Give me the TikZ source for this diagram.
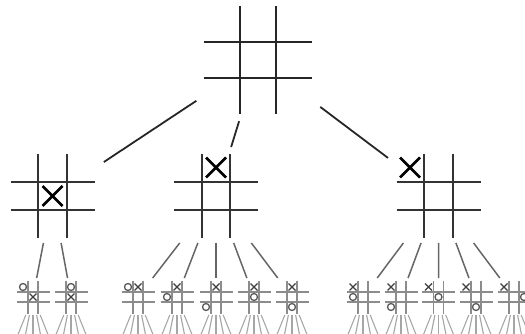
\documentclass[tikz,border=0pt]{standalone}
\usetikzlibrary{calc}

\tikzset{
  pics/board/.style 2 args={code={
    \draw (-#1/2,-#2) -- (-#1/2,#2) (#1/2,-#2) -- (#1/2,#2)
          (-#2,-#1/2) -- (#2,-#1/2) (-#2,#1/2) -- (#2,#1/2);}},
  pics/xmark/.style={code={\draw (-#1,-#1) -- (#1,#1) (-#1,#1) -- (#1,-#1);}},
  pics/omark/.style={code={\draw (0,0) circle[radius=#1 pt];}},
  big/.style={line width=2pt, black!85},
  mid/.style={line width=2pt, black!80},
  small/.style={line width=1.4pt, black!45},
  smallmark/.style={line width=1.3pt, black!75},
  link/.style={line width=1.8pt, black!85},
  sublink/.style={line width=1.5pt, black!60},
  fan/.style={line width=1.1pt, black!35},
}

\begin{document}
\begin{tikzpicture}[x=1pt,y=-1pt]
\useasboundingbox (0,0) rectangle (525,334);
\clip (0,0) rectangle (525,334);

% root
\coordinate (top) at (258,60);
\pic[big] at (top) {board={36}{54}};

% first move
\coordinate (l) at (52.5,196);
\coordinate (m) at (216,196);
\coordinate (r) at (438.5,196);
\foreach \b in {l,m,r}
  \pic[mid] at (\b) {board={28.5}{42}};
\pic[line width=2.5pt, black] at ($(l)+(0,0)$) {xmark=10};
\pic[line width=2.5pt, black] at ($(m)+(0,-28.5)$) {xmark=10};
\pic[line width=2.5pt, black] at ($(r)+(-28.5,-28.5)$) {xmark=10};

\draw[link] ($(top)!0.30!(l)$) -- ($(top)!0.75!(l)$);
\draw[link] ($(top)!0.45!(m)$) -- ($(top)!0.64!(m)$);
\draw[link] ($(top)!0.345!(r)$) -- ($(top)!0.72!(r)$);

% second move
\coordinate (l1) at (33,297);
\coordinate (l2) at (71,297);
\coordinate (m1) at (138,297);
\coordinate (m2) at (177,297);
\coordinate (m3) at (216,297);
\coordinate (m4) at (254,297);
\coordinate (m5) at (292,297);
\coordinate (r1) at (363,297);
\coordinate (r2) at (401,297);
\coordinate (r3) at (438.5,297);
\coordinate (r4) at (476,297);
\coordinate (r5) at (514,297);

\foreach \p/\c in {l/l1,l/l2,m/m1,m/m2,m/m3,m/m4,m/m5,r/r1,r/r2,r/r3,r/r4,r/r5}{
  \draw[sublink] ($(\p)!0.465!(\c)$) -- ($(\p)!0.812!(\c)$);
  \pic[small] at (\c) {board={10}{16.5}};
  \foreach \d in {-24,-12,0,12,24}
    \draw[fan] ($(\c)+(0.3*\d,18)$) -- ($(\c)+(0.7*\d,42)$);
}

\foreach \c/\xx/\xy/\ox/\oy in {l1/0/0/-10/-10, l2/0/0/0/-10,
    m1/0/-10/-10/-10, m2/0/-10/-10/0, m3/0/-10/-10/10, m4/0/-10/0/0, m5/0/-10/0/10,
    r1/-10/-10/-10/0, r2/-10/-10/-10/10, r3/-10/-10/0/0, r4/-10/-10/0/10, r5/-10/-10/10/0}{
  \pic[smallmark] at ($(\c)+(\xx,\xy)$) {xmark=3.5};
  \pic[smallmark, black!65] at ($(\c)+(\ox,\oy)$) {omark=3.5};
}
\end{tikzpicture}
\end{document}
